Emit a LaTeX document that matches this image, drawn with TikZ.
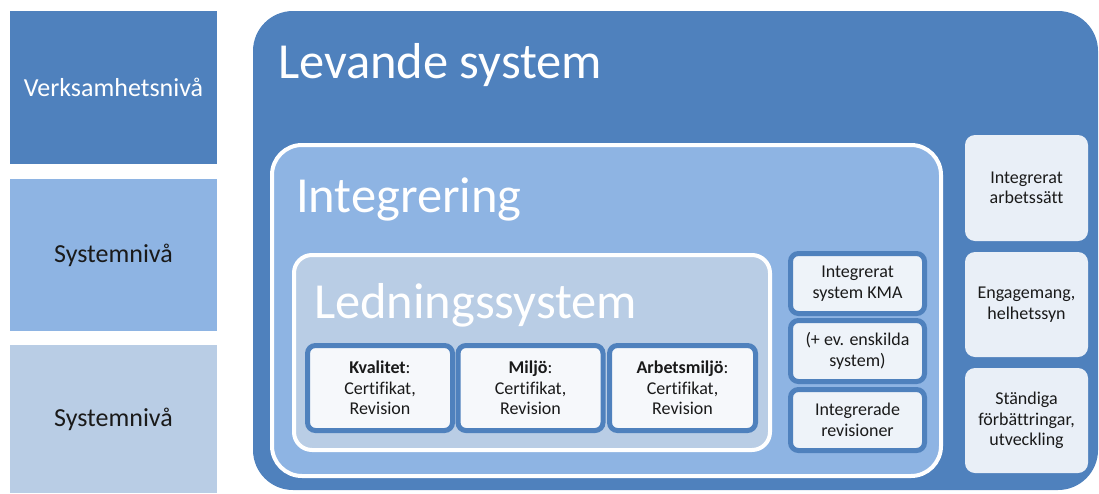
\documentclass[tikz,border=0pt]{standalone}
\usepackage{fontspec}
\setmainfont{Carlito}[Ligatures={NoCommon}]
\definecolor{dark}{HTML}{4F81BD}
\definecolor{mid}{HTML}{8EB4E3}
\definecolor{pale}{HTML}{B9CDE5}
\definecolor{card}{HTML}{F6F8FB}
\definecolor{cardb}{HTML}{EEF3F9}
\definecolor{tile}{HTML}{E9EFF7}
\definecolor{ink}{HTML}{1A1A1A}
\begin{document}
\begin{tikzpicture}[x=1pt,y=-1pt,
  every node/.style={inner sep=0pt,outer sep=0pt},
  level/.style={fill=#1,minimum width=207pt,font=\fontsize{26}{30}\selectfont},
  frame/.style={rounded corners=#1,draw=white,line width=4pt},
  title/.style={anchor=base west,text=white,font=\fontsize{50.5}{56}\selectfont},
  card/.style={rounded corners=8pt,draw=dark,line width=5pt,fill=card,text=ink,
    align=center,font=\fontsize{18}{20.5}\selectfont},
  tilebox/.style={rounded corners=10pt,fill=tile,text=ink,minimum width=123pt,
    align=center,font=\fontsize{18}{20.5}\selectfont}]
\useasboundingbox (0,0) rectangle (1099,493);

% level labels on the left
\node[level=dark,minimum height=153pt,text=white] (verk) at (113.5,87.5) {Verksamhetsnivå};
\node[level=mid,minimum height=152pt,text=ink] (sys1) at (113.5,255) {Systemnivå};
\node[level=pale,minimum height=148pt,text=ink] (sys2) at (113.5,419) {Systemnivå};

% nested system frames
\node[rounded corners=40pt,fill=dark,minimum width=845pt,minimum height=479pt] (levande) at (675.5,250.5) {};
\node[title] (levandeT) at (278,78) {Levande system};

\node[frame=30pt,fill=mid,minimum width=669pt,minimum height=331pt] (integ) at (606.5,310.5) {};
\node[title] (integT) at (296,212) {Integrering};

\node[frame=18pt,fill=pale,minimum width=476pt,minimum height=195pt] (ledn) at (532,352.5) {};
\node[title] (lednT) at (314,318) {Ledningssystem};

% management system parts
\node[card,minimum width=145pt,minimum height=85pt] (kval) at (380,388) {\textbf{Kvalitet}:\\Certifikat,\\Revision};
\node[card,minimum width=145pt,minimum height=85pt] (milj) at (530.5,388) {\textbf{Miljö}:\\Certifikat,\\Revision};
\node[card,minimum width=146pt,minimum height=85pt] (arb) at (682.5,388) {\textbf{Arbetsmiljö}:\\Certifikat,\\Revision};

% integration column
\node[card,fill=cardb,minimum width=134pt,minimum height=60pt] (kma) at (857.5,283.5) {Integrerat\\system KMA};
\node[card,fill=cardb,minimum width=134pt,minimum height=61pt] (ensk) at (857.5,351) {(+ ev. enskilda\\system)};
\node[card,fill=cardb,minimum width=134pt,minimum height=61pt] (rev) at (857.5,420) {Integrerade\\revisioner};

% living system column
\node[tilebox,minimum height=106pt] (arbs) at (1026.5,188) {Integrerat\\arbetssätt};
\node[tilebox,minimum height=105pt] (eng) at (1026.5,304.5) {Engagemang,\\helhetssyn};
\node[tilebox,minimum height=105pt] (stand) at (1026.5,420.5) {Ständiga\\förbättringar,\\utveckling};
\end{tikzpicture}
\end{document}
